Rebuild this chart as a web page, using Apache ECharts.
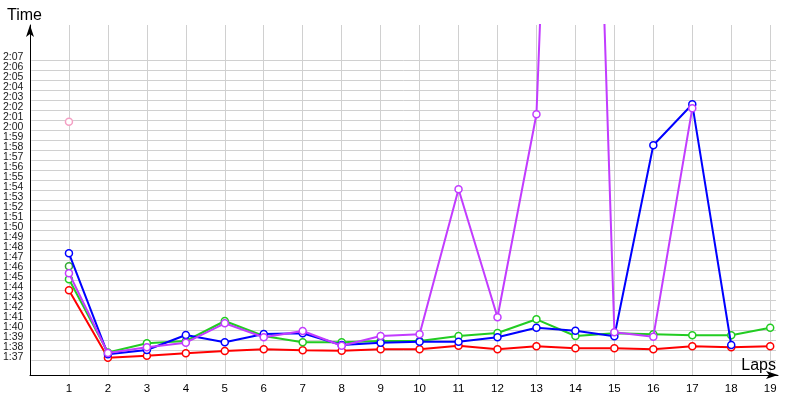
<!DOCTYPE html>
<html>
<head>
<meta charset="utf-8">
<script src="https://cdn.jsdelivr.net/npm/echarts@6/dist/echarts.min.js"></script>
<style>
html,body{margin:0;padding:0;background:#fff;}
#chart{width:800px;height:400px;}
</style>
</head>
<body>
<div id="chart"></div>
<script>
// Lap numbers
var laps = [1,2,3,4,5,6,7,8,9,10,11,12,13,14,15,16,17,18,19];
// Lap times in seconds
var redTimes = [103.97, 97.23, 97.43, 97.67, 97.9, 98.07, 97.97, 97.93, 98.07, 98.07, 98.43, 98.07, 98.37, 98.17, 98.17, 98.07, 98.37, 98.27, 98.37];
var greenTimes = [105.07, 97.75, 98.67, 98.9, 100.9, 99.4, 98.77, 98.77, 98.9, 98.9, 99.4, 99.7, 101.07, 99.4, 99.67, 99.57, 99.47, 99.47, 100.23];
var blueTimes = [107.67, 97.57, 98.0, 99.5, 98.77, 99.6, 99.67, 98.5, 98.73, 98.83, 98.83, 99.27, 100.23, 99.93, 99.37, 118.47, 122.57, 98.5];
var magentaTimes = [105.67, 97.7, 98.27, 98.73, 100.67, 99.27, 99.9, 98.43, 99.4, 99.57, 114.07, 101.27, 121.57, 221, 99.77, 99.33, 122.17];
var extraGreenTimes = [106.37];
var extraPinkTimes = [120.83];
// Y tick range (seconds) for labelled grid lines: 1:37 .. 2:07
var yTickMin = 97, yTickMax = 127;

function pairs(vals){ return vals.map(function(v,i){ return [laps[i], v]; }); }
function fmt(v){
  var m = Math.floor(v/60), s = Math.round(v - m*60);
  return m + ':' + (s < 10 ? '0' + s : s);
}

var chart = echarts.init(document.getElementById('chart'), null, {renderer:'canvas'});
var gridCol = '#d0d0d0';
var txtFont = "'Liberation Sans', Arial, sans-serif";
var yLabelStyle = {show: true, margin: 8, color: '#1a1a1a', fontSize: 10.5,
  showMinLabel: true, showMaxLabel: true, hideOverlap: false,
  verticalAlign: 'bottom', lineHeight: 6,
  fontFamily: "'Liberation Sans Narrow', 'Liberation Sans', Arial, sans-serif",
  formatter: fmt};

function mkSeries(name, vals, col, z){
  return {
    name: name, type: 'line', xAxisIndex: 0, yAxisIndex: 0,
    data: pairs(vals), clip: true, z: z,
    symbol: 'circle', symbolSize: 7,
    lineStyle: {color: col, width: 2},
    itemStyle: {color: '#fff', borderColor: col, borderWidth: 1.5},
    emphasis: {disabled: true}, animation: false
  };
}

var option = {
  animation: false,
  grid: [
    {left: 30, top: 25, width: 740.2, height: 350},
    {left: 30, top: 60, width: 746, height: 300},
    {left: 30, top: 25, width: 748, height: 350},
    {left: 30, top: 70, width: 746, height: 280}
  ],
  xAxis: [
    {gridIndex: 0, type: 'value', min: 0, max: 19, interval: 1,
     axisLine: {show: false}, axisTick: {show: false},
     axisLabel: {show: true, margin: 8, color: '#000', fontSize: 11.5, fontFamily: txtFont,
       showMinLabel: true, showMaxLabel: true, hideOverlap: false,
       formatter: function(v){ return v === 0 ? '' : String(v); }},
     splitLine: {show: true, lineStyle: {color: gridCol, width: 1}}},
    {gridIndex: 1, type: 'value', min: 0, max: 1, show: false},
    {gridIndex: 2, type: 'value', min: 0, max: 1,
     axisLine: {show: true, onZero: false, symbol: ['none','arrow'], symbolSize: [6, 12], lineStyle: {color: '#000', width: 1}},
     axisTick: {show: false}, axisLabel: {show: false}, splitLine: {show: false},
     name: 'Laps', nameLocation: 'end', nameGap: -2,
     nameTextStyle: {align: 'right', verticalAlign: 'bottom', fontSize: 16, color: '#000', fontFamily: txtFont, padding: [0,0,1,0]}},
    {gridIndex: 3, type: 'value', min: 0, max: 1, show: false}
  ],
  yAxis: [
    {gridIndex: 0, type: 'value', min: 95.5, max: 130.5,
     axisLine: {show: true, onZero: false, symbol: ['none','arrow'], symbolSize: [6, 12], lineStyle: {color: '#000', width: 1}},
     axisTick: {show: false}, axisLabel: {show: false}, splitLine: {show: false},
     name: 'Time', nameLocation: 'end', nameGap: 1,
     nameTextStyle: {align: 'center', verticalAlign: 'bottom', fontSize: 16, color: '#000', fontFamily: txtFont, padding: [0, 11, 0, 0]}},
    // odd-second labels
    {gridIndex: 1, type: 'value', min: yTickMin, max: yTickMax, interval: 2,
     axisLine: {show: false}, axisTick: {show: false},
     axisLabel: yLabelStyle,
     splitLine: {show: false}},
    {gridIndex: 2, type: 'value', min: 0, max: 1, show: false},
    // even-second labels
    {gridIndex: 3, type: 'value', min: yTickMin + 1, max: yTickMax - 1, interval: 2,
     axisLine: {show: false}, axisTick: {show: false},
     axisLabel: yLabelStyle,
     splitLine: {show: false}},
    // horizontal grid lines every second
    {gridIndex: 1, type: 'value', position: 'left', min: yTickMin, max: yTickMax, interval: 1,
     axisLine: {show: false}, axisTick: {show: false}, axisLabel: {show: false},
     splitLine: {show: true, lineStyle: {color: gridCol, width: 1}}}
  ],
  series: [
    mkSeries('Red', redTimes, '#ff0000', 2),
    mkSeries('Green', greenTimes, '#22cc22', 3),
    mkSeries('Green2', extraGreenTimes, '#33aa33', 3),
    mkSeries('Blue', blueTimes, '#0000ff', 4),
    mkSeries('Pink', extraPinkTimes, '#f4a0c4', 4),
    mkSeries('Magenta', magentaTimes, '#c23cff', 5)
  ]
};
chart.setOption(option);
</script>
</body>
</html>
